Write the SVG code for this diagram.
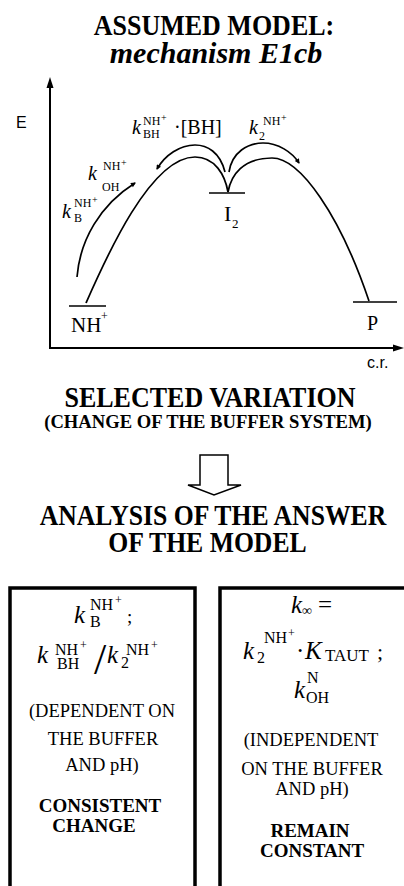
<svg xmlns="http://www.w3.org/2000/svg" width="404" height="886" viewBox="0 0 404 886">
<style>
.ln{fill:none;stroke:#000;stroke-width:1.7}
.ax{fill:none;stroke:#000;stroke-width:2}
.box{fill:none;stroke:#000;stroke-width:3.5}
</style>
<defs>
<marker id="ah" viewBox="0 0 10 10" refX="8" refY="5" markerWidth="7" markerHeight="5" orient="auto" markerUnits="userSpaceOnUse"><path d="M0,0 L10,5 L0,10 z" fill="#000"/></marker>
</defs>
<rect width="404" height="886" fill="#fff"/>
<g font-family="Liberation Serif, Times New Roman, serif" fill="#000">

<g id="title" font-weight="bold">
<text text-anchor="middle" font-size="26" transform="translate(214,35) scale(1,1.12)">ASSUMED MODEL:</text>
<text text-anchor="middle" font-size="30" font-style="italic" x="216" y="63">mechanism E1cb</text>
</g>

<g id="axes">
<line class="ax" x1="50" y1="348" x2="50" y2="84"/>
<polygon points="50,77 46.5,88 53.5,88" fill="#000"/>
<line class="ax" x1="49" y1="348" x2="396" y2="348"/>
<polygon points="404,348 393,344.5 393,351.5" fill="#000"/>
<text font-family="Liberation Sans, Arial, sans-serif" x="16" y="128" font-size="16">E</text>
<text font-family="Liberation Sans, Arial, sans-serif" x="367" y="368" font-size="16">c.r.</text>
</g>

<g id="connectors">
<path class="ln" d="M86,303 C105,260 150,157 195,157 C215,157 225,175 228,192"/>
<path class="ln" d="M228,192 C231,175 243,158 272,158 C300,158 340,215 369,301"/>
<path class="ln" marker-end="url(#ah)" d="M225,172 C220,152 207,145 195,145 C180,145 165,155 157,169"/>
<path class="ln" marker-end="url(#ah)" d="M229,172 C232,152 248,143 263,143 C278,143 292,152 299,163"/>
<path class="ln" marker-end="url(#ah)" d="M77,277 C80,240 100,205 135,183"/>
</g>

<g id="level-NH">
<line class="ln" x1="69" y1="306" x2="106" y2="306"/>
<text x="71" y="332" font-size="21">NH</text>
<text x="101" y="320" font-size="12">+</text>
</g>
<g id="level-I2">
<line class="ln" x1="209" y1="193" x2="245" y2="193"/>
<text x="224" y="221" font-size="22">I</text>
<text x="232" y="228" font-size="13">2</text>
</g>
<g id="level-P">
<line class="ln" x1="353" y1="302" x2="397" y2="302"/>
<text x="367" y="330" font-size="20">P</text>
</g>

<g id="label-kBH" font-size="12">
<text font-style="italic" font-size="20" x="132" y="134">k</text>
<text x="143" y="125">NH</text>
<text x="161" y="121" font-size="10">+</text>
<text x="143" y="138">BH</text>
<text font-size="20" x="174" y="134">·[BH]</text>
</g>
<g id="label-k2" font-size="12">
<text font-style="italic" font-size="20" x="249" y="134">k</text>
<text x="259" y="140">2</text>
<text x="263" y="125">NH</text>
<text x="281" y="121" font-size="10">+</text>
</g>
<g id="label-kOH" font-size="12">
<text font-style="italic" font-size="20" x="88" y="180">k</text>
<text x="103" y="170">NH</text>
<text x="121" y="166" font-size="10">+</text>
<text x="102" y="191">OH</text>
</g>
<g id="label-kB" font-size="12">
<text font-style="italic" font-size="20" x="62" y="218">k</text>
<text x="74" y="207">NH</text>
<text x="92" y="203" font-size="10">+</text>
<text x="74" y="222">B</text>
</g>

<g id="variation" font-weight="bold">
<text text-anchor="middle" font-size="26" transform="translate(210,407) scale(1,1.12)">SELECTED VARIATION</text>
<text text-anchor="middle" font-size="18.6" x="208" y="428">(CHANGE OF THE BUFFER SYSTEM)</text>
</g>

<g id="down-arrow">
<polygon points="200,455 228,455 228,485 241,485 214,495 188,485 200,485" fill="#fff" stroke="#000" stroke-width="1.5" stroke-linejoin="miter"/>
</g>

<g id="analysis" font-weight="bold" font-size="25.7">
<text text-anchor="middle" transform="translate(213,525) scale(1,1.12)">ANALYSIS OF THE ANSWER</text>
<text text-anchor="middle" transform="translate(207.5,552) scale(1,1.12)">OF THE MODEL</text>
</g>

<g id="box-dependent" font-size="16">
<rect class="box" x="10" y="588" width="185" height="320"/>
<text font-style="italic" font-size="25" x="74" y="623">k</text>
<text x="90" y="610">NH</text>
<text x="115" y="604" font-size="12">+</text>
<text x="90" y="627">B</text>
<text x="127" y="623" font-size="19">;</text>
<text font-style="italic" font-size="25" x="37" y="663">k</text>
<text x="55" y="655">NH</text>
<text x="80" y="649" font-size="12">+</text>
<text x="57" y="669">BH</text>
<text x="94" y="674" font-size="44">/</text>
<text font-style="italic" font-size="25" x="107" y="663">k</text>
<text x="121" y="668">2</text>
<text x="126" y="655">NH</text>
<text x="151" y="649" font-size="12">+</text>
<text font-size="18.5" text-anchor="middle" x="102" y="717">(DEPENDENT ON</text>
<text font-size="18.5" text-anchor="middle" x="103" y="745">THE BUFFER</text>
<text font-size="18.5" text-anchor="middle" x="102" y="771">AND pH)</text>
<text font-size="19" font-weight="bold" text-anchor="middle" x="100" y="812">CONSISTENT</text>
<text font-size="19" font-weight="bold" text-anchor="middle" x="94" y="832">CHANGE</text>
</g>

<g id="box-independent" font-size="16">
<rect class="box" x="220" y="588" width="200" height="320"/>
<text font-style="italic" font-size="25" x="291" y="613">k</text>
<text x="302" y="615" font-size="14">∞</text>
<text x="318" y="613" font-size="25">=</text>
<text font-style="italic" font-size="25" x="243" y="659">k</text>
<text x="257" y="663">2</text>
<text x="264" y="643">NH</text>
<text x="288" y="637" font-size="12">+</text>
<text x="296" y="659" font-size="25">·</text>
<text font-style="italic" font-size="25" x="305" y="659">K</text>
<text x="325" y="661" font-size="17">TAUT</text>
<text x="377" y="659" font-size="22">;</text>
<text font-style="italic" font-size="25" x="294" y="698">k</text>
<text x="307" y="683">N</text>
<text x="306" y="703">OH</text>
<text font-size="18.5" text-anchor="middle" x="311" y="746">(INDEPENDENT</text>
<text font-size="18.5" text-anchor="middle" x="312" y="775">ON THE BUFFER</text>
<text font-size="18.5" text-anchor="middle" x="312" y="795">AND pH)</text>
<text font-size="19" font-weight="bold" text-anchor="middle" x="310" y="837">REMAIN</text>
<text font-size="19" font-weight="bold" text-anchor="middle" x="312" y="857">CONSTANT</text>
</g>
</g>
</svg>
